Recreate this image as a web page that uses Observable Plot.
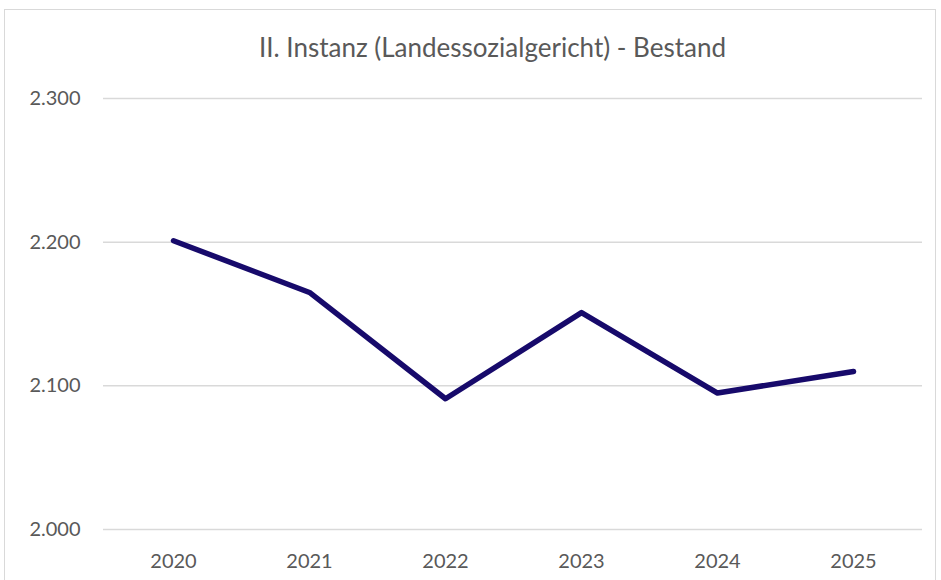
<!DOCTYPE html>
<html><head><meta charset="utf-8">
<script src="https://cdn.jsdelivr.net/npm/d3@7"></script>
<script src="https://cdn.jsdelivr.net/npm/@observablehq/plot@0.6"></script>
<style>
body{margin:0;background:#fff;}
#wrap{position:relative;width:941px;height:580px;overflow:hidden;font-family:Lato,"Open Sans",sans-serif;}
#frame{position:absolute;left:4px;top:9px;width:932px;height:600px;border:1px solid #d9d9d9;box-sizing:border-box;}
#title{position:relative;height:80px;box-sizing:border-box;padding-top:31px;line-height:32px;text-align:center;font-size:26px;color:#595959;padding-left:44px;}
#chart{position:relative;}
</style></head>
<body><div id="wrap"><div id="frame"></div><div id="title">II. Instanz (Landessozialgericht) - Bestand</div><div id="chart"></div></div>
<script>
const years = ["2020","2021","2022","2023","2024","2025"];
const bestand = [2201, 2165, 2091, 2151, 2095, 2110];
const yTicks = [2000, 2100, 2200, 2300];

const data = years.map((y,i)=>({year:y, value:bestand[i]}));
const de = d3.formatLocale({decimal:",", thousands:".", grouping:[3], currency:["","€"]});
const fmt = de.format(",");

const plot = Plot.plot({
  width: 941,
  height: 500,
  marginTop: 18,
  marginBottom: 51,
  marginLeft: 103,
  marginRight: 19,
  style:{fontFamily:"Lato, 'Open Sans', sans-serif", fontSize:"20px", color:"#595959", background:"transparent"},
  x:{type:"point", domain:years, padding:0.5, label:null},
  y:{domain:[2000,2300], label:null},
  marks:[
    Plot.gridY(yTicks, {stroke:"#d9d9d9", strokeOpacity:1, strokeWidth:1.5}),
    Plot.axisY(yTicks, {tickSize:0, tickPadding:23, tickFormat:fmt, label:null, fontSize:20, fill:"#595959"}),
    Plot.axisX(years, {tickSize:0, tickPadding:24, label:null, fontSize:20, fill:"#595959"}),
    Plot.line(data, {x:"year", y:"value", stroke:"#170a6b", strokeWidth:5.5, strokeLinejoin:"round", strokeLinecap:"round"})
  ]
});
document.getElementById("chart").appendChild(plot);
</script></body></html>
